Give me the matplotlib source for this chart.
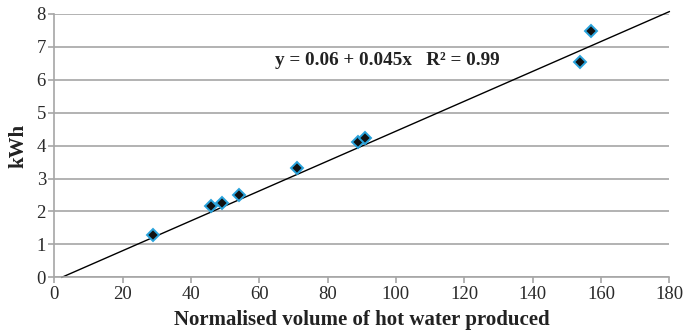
import numpy as np
import matplotlib
matplotlib.use("Agg")
import matplotlib.pyplot as plt

# Data
volume = [29, 46, 49, 54, 71, 89, 91, 154, 157]
kwh = [1.30, 2.18, 2.27, 2.50, 3.33, 4.10, 4.22, 6.55, 7.48]
trend_intercept = -0.10
trend_slope = 0.0454
x_ticks = [0, 20, 40, 60, 80, 100, 120, 140, 160, 180]
y_ticks = [0, 1, 2, 3, 4, 5, 6, 7, 8]
equation = "y = 0.06 + 0.045x   R² = 0.99"

plt.rcParams['font.family'] = ['Liberation Serif', 'DejaVu Serif']

fig = plt.figure(figsize=(6.84, 3.35), dpi=100)
ax = fig.add_axes([54.3 / 684, 1 - 277.3 / 335, (669.3 - 54.3) / 684, (277.3 - 14) / 335])

grid_col = '#a6a6a6'
ax.set_xlim(0, 180)
ax.set_ylim(0, 8)
ax.set_xticks(x_ticks)
ax.set_yticks(y_ticks)
ax.yaxis.grid(True, color=grid_col, linewidth=1.2)
ax.set_axisbelow(True)
for s in ['top', 'right']:
    ax.spines[s].set_visible(False)
for s in ['left', 'bottom']:
    ax.spines[s].set_color(grid_col)
    ax.spines[s].set_linewidth(1.2)
ax.tick_params(axis='both', colors=grid_col, width=1.2, length=4, labelsize=13.5,
               labelcolor='#2a2a2a')
ax.tick_params(axis='x', pad=2)
ax.tick_params(axis='y', pad=2)

x_start = -trend_intercept / trend_slope
xs = np.array([x_start, 180])
ax.plot(xs, trend_intercept + trend_slope * xs, color='black', linewidth=1.0,
        zorder=2, clip_on=False)
ax.plot(volume, kwh, linestyle='none', marker='D', markersize=6.5,
        markerfacecolor='#111111', markeredgecolor='#29a3dc', markeredgewidth=1.4, zorder=3)

ax.text(0.542, 0.823, equation, transform=ax.transAxes, ha='center', va='center',
        fontsize=13.8, fontweight='bold', color='#222222',
        bbox=dict(facecolor='white', edgecolor='none', pad=2), zorder=4)

ax.set_xlabel('Normalised volume of hot water produced', fontsize=15,
              fontweight='bold', color='#222222', labelpad=5)
ax.set_ylabel('kWh', fontsize=15, fontweight='bold', color='#222222', labelpad=6)

fig.savefig('out.png', dpi=100)
